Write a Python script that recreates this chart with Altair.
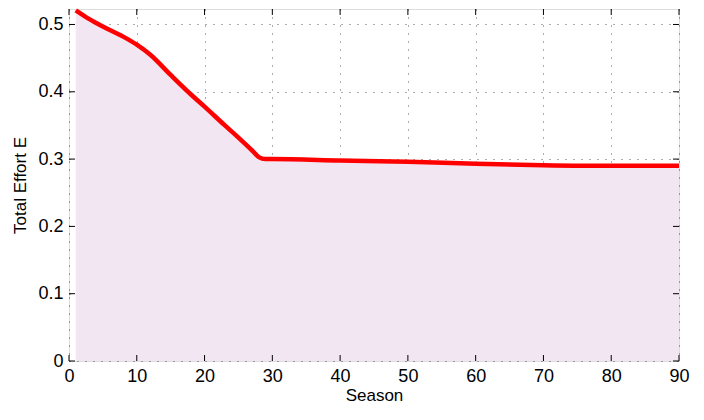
import altair as alt
import pandas as pd

season = [1, 3, 5, 8, 10, 12, 15, 18, 20, 23, 25, 27, 28, 29, 30, 40, 50, 60, 70, 80, 90]
effort = [0.521, 0.508, 0.497, 0.482, 0.470, 0.455, 0.425, 0.396, 0.378, 0.350, 0.332, 0.313, 0.303, 0.300, 0.300,
          0.298, 0.296, 0.293, 0.291, 0.290, 0.290]
x_ticks = [0, 10, 20, 30, 40, 50, 60, 70, 80, 90]
y_ticks = [0, 0.1, 0.2, 0.3, 0.4, 0.5]

df = pd.DataFrame({"Season": season, "E": effort})
xt = pd.DataFrame({"v": x_ticks})
yt = pd.DataFrame({"v": y_ticks})

W, H = 610, 352
FONT = "Liberation Sans"

xs = alt.Scale(domain=[0, 90], nice=False, zero=False)
ys = alt.Scale(domain=[0, 0.523], nice=False)

xaxis = alt.Axis(values=x_ticks, title="Season", grid=True, gridDash=[1, 7], gridColor="#333",
                 gridOpacity=0.8, domain=False, ticks=False, labelFontSize=18, titleFontSize=17,
                 labelFont=FONT, titleFont=FONT, labelColor="black", titleColor="black",
                 labelPadding=6, titlePadding=2, titleFontWeight="normal", labelFlush=False)
yaxis = alt.Axis(values=y_ticks, title="Total Effort E", grid=True, gridDash=[1, 7], gridColor="#333",
                 gridOpacity=0.8, domain=False, ticks=False, labelFontSize=18, titleFontSize=17,
                 labelFont=FONT, titleFont=FONT, labelColor="black", titleColor="black",
                 labelPadding=6, titlePadding=8, format="~g", titleFontWeight="normal", labelFlush=False)

area = alt.Chart(df).mark_area(color="#f1e6f2", opacity=1).encode(
    x=alt.X("Season:Q", scale=xs, axis=xaxis),
    y=alt.Y("E:Q", scale=ys, axis=yaxis),
)
line = alt.Chart(df).mark_line(color="#ff0000", strokeWidth=4.5, interpolate="monotone").encode(
    x=alt.X("Season:Q", scale=xs),
    y=alt.Y("E:Q", scale=ys),
)

tb = alt.Chart(xt).mark_rule(color="black", strokeWidth=1).encode(
    x=alt.X("v:Q", scale=xs), y=alt.value(H), y2=alt.value(H - 6))
tt = alt.Chart(xt).mark_rule(color="black", strokeWidth=1).encode(
    x=alt.X("v:Q", scale=xs), y=alt.value(0), y2=alt.value(6))
tl = alt.Chart(yt).mark_rule(color="black", strokeWidth=1).encode(
    y=alt.Y("v:Q", scale=ys), x=alt.value(0), x2=alt.value(6))
tr = alt.Chart(yt).mark_rule(color="black", strokeWidth=1).encode(
    y=alt.Y("v:Q", scale=ys), x=alt.value(W), x2=alt.value(W - 6))

chart = alt.layer(area, line, tb, tt, tl, tr).properties(
    width=W, height=H,
    autosize=alt.AutoSizeParams(type="none"),
    padding={"left": 61, "top": 1, "right": 14, "bottom": 50},
).configure_view(stroke="black", strokeWidth=1.2).configure(background="white")

chart.save("out.html", embed_options={"renderer": "svg", "actions": False})
